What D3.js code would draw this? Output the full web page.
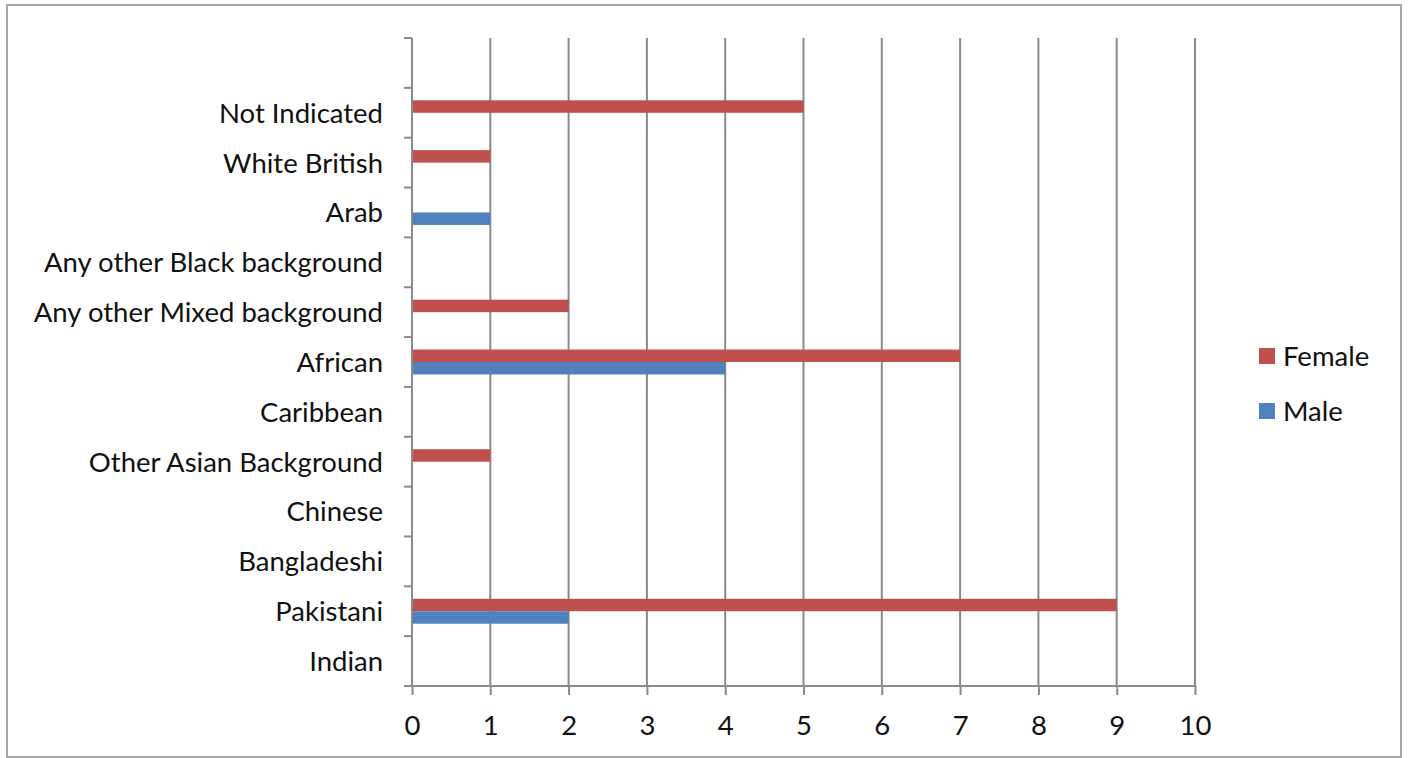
<!DOCTYPE html>
<html>
<head>
<meta charset="utf-8">
<script src="https://cdn.jsdelivr.net/npm/d3@7"></script>
<style>
  html, body { margin: 0; padding: 0; background: #fff; }
  svg { display: block; }
  text { font-family: Lato, "Open Sans", sans-serif; fill: #111; }
</style>
</head>
<body>
<svg id="chart" width="1408" height="758"></svg>
<script>
// Ethnic background categories, bottom to top (top slot is left blank)
const categories = [
  "Indian", "Pakistani", "Bangladeshi", "Chinese", "Other Asian Background",
  "Caribbean", "African", "Any other Mixed background", "Any other Black background",
  "Arab", "White British", "Not Indicated", ""
];
const femaleValues = [0, 9, 0, 0, 1, 0, 7, 2, 0, 0, 1, 5, 0];
const maleValues   = [0, 2, 0, 0, 0, 0, 4, 0, 0, 1, 0, 0, 0];
const seriesNames = ["Female", "Male"];
const seriesColors = ["#C0504D", "#4F81BD"];
const xTicks = [0, 1, 2, 3, 4, 5, 6, 7, 8, 9, 10];

const svg = d3.select("#chart");
const plotLeft = 412, plotRight = 1195, plotTop = 38, plotBottom = 686;
const gridColor = "#8a8a8a";
const fontSize = 27.5;

// outer frame
svg.append("rect")
  .attr("x", 7).attr("y", 5).attr("width", 1394).attr("height", 752)
  .attr("fill", "none").attr("stroke", "#a6a6a6").attr("stroke-width", 2);

const x = d3.scaleLinear().domain([0, 10]).range([plotLeft, plotRight]);
const y = d3.scaleBand().domain(categories).range([plotBottom, plotTop]).paddingInner(0.5).paddingOuter(0.25);
const yOuter = d3.scaleBand().domain(categories).range([plotBottom, plotTop]);
const sub = d3.scaleBand().domain(seriesNames).range([0, y.bandwidth()]);

// vertical gridlines
svg.append("g").selectAll("line")
  .data(xTicks.filter(t => t > 0))
  .join("line")
  .attr("x1", d => x(d)).attr("x2", d => x(d))
  .attr("y1", plotTop).attr("y2", plotBottom)
  .attr("stroke", gridColor).attr("stroke-width", 2);

// bars
const series = [femaleValues, maleValues];
series.forEach((vals, si) => {
  svg.append("g").selectAll("rect")
    .data(categories.map((c, i) => ({ c, v: vals[i] })).filter(d => d.v > 0))
    .join("rect")
    .attr("x", x(0))
    .attr("y", d => y(d.c) + sub(seriesNames[si]))
    .attr("width", d => x(d.v) - x(0))
    .attr("height", sub.bandwidth())
    .attr("fill", seriesColors[si]);
});

// bottom axis
const xAxis = svg.append("g")
  .attr("transform", `translate(0,${plotBottom})`)
  .call(d3.axisBottom(x).tickValues(xTicks).tickSize(9).tickPadding(20).tickSizeOuter(0));
xAxis.select(".domain").attr("stroke", gridColor).attr("stroke-width", 2)
  .attr("d", `M${plotLeft - 8},0H${plotRight}`);
xAxis.selectAll(".tick line").attr("stroke", gridColor).attr("stroke-width", 2);
xAxis.selectAll(".tick text").attr("font-size", fontSize).style("font-family", "Lato, sans-serif").attr("fill", "#111");

// left axis with ticks at band boundaries
const yAxisG = svg.append("g");
yAxisG.append("line")
  .attr("x1", plotLeft).attr("x2", plotLeft).attr("y1", plotTop).attr("y2", plotBottom)
  .attr("stroke", gridColor).attr("stroke-width", 2);
const boundaries = categories.map(c => yOuter(c));
yAxisG.selectAll("line.tk")
  .data(boundaries)
  .join("line").attr("class", "tk")
  .attr("x1", plotLeft - 8).attr("x2", plotLeft)
  .attr("y1", d => d).attr("y2", d => d)
  .attr("stroke", gridColor).attr("stroke-width", 2);
yAxisG.selectAll("text")
  .data(categories)
  .join("text")
  .attr("x", plotLeft - 29)
  .attr("y", d => yOuter(d) + yOuter.bandwidth() / 2)
  .attr("dy", "0.36em")
  .attr("text-anchor", "end")
  .attr("font-size", fontSize)
  .text(d => d);

// legend
const legend = svg.append("g").attr("transform", "translate(1259,348)");
seriesNames.forEach((name, i) => {
  const g = legend.append("g").attr("transform", `translate(0,${i * 55})`);
  g.append("rect").attr("width", 16).attr("height", 16).attr("fill", seriesColors[i]);
  g.append("text").attr("x", 24).attr("y", 8).attr("dy", "0.36em")
    .attr("font-size", fontSize).text(name);
});
</script>
</body>
</html>
